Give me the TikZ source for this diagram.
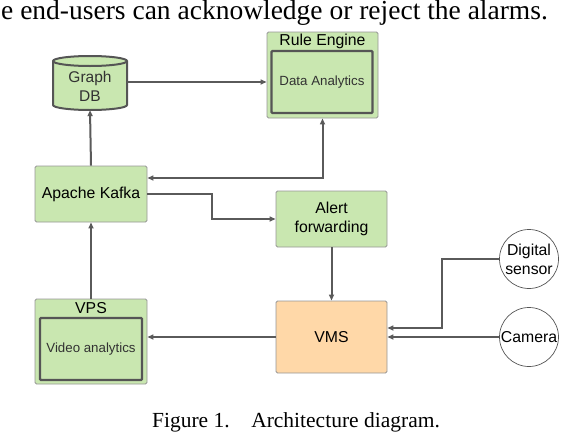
\documentclass[tikz,border=0pt]{standalone}
\usepackage{fontspec}
\setmainfont{Liberation Serif}
\newfontfamily\arial{Liberation Sans}
\usetikzlibrary{arrows.meta,calc}
\definecolor{boxgreen}{RGB}{201,231,176}
\definecolor{boxorange}{RGB}{255,216,168}
\definecolor{linegray}{RGB}{90,90,90}
\definecolor{bordergray}{RGB}{150,150,150}
\definecolor{innergray}{RGB}{85,85,85}
\definecolor{txtgray}{RGB}{50,50,50}
\begin{document}
\begin{tikzpicture}[x=1pt,y=-1pt,
  box/.style={draw=bordergray,line width=0.9pt,rounded corners=1.5pt,inner sep=0pt,align=center,font=\arial\fontsize{15.8}{19}\selectfont},
  greenbox/.style={box,fill=boxgreen},
  orangebox/.style={box,fill=boxorange},
  innerbox/.style={draw=innergray,line width=2.2pt,rounded corners=1pt,inner sep=0pt,align=center,font=\arial\fontsize{13.3}{16}\selectfont,text=txtgray},
  device/.style={circle,draw=innergray,line width=0.7pt,fill=white,minimum size=59pt,inner sep=0pt,align=center,font=\arial\fontsize{15.8}{19}\selectfont},
  boxtitle/.style={inner sep=0pt,font=\arial\fontsize{15.8}{19}\selectfont},
  dbstyle/.style={draw=innergray,line width=2pt,fill=boxgreen},
  arr/.style={draw=linegray,line width=2pt,-{Triangle[length=6pt,width=5pt]}},
  arrboth/.style={draw=linegray,line width=2pt,{Triangle[length=6pt,width=5pt]}-{Triangle[length=6pt,width=5pt]}}]
\useasboundingbox (0,0) rectangle (562,434);

% top text and caption
\node[anchor=base west,inner sep=0pt,font=\fontsize{27.5}{30}\selectfont] (toptext) at (1,19) {e end-users can acknowledge or reject the alarms.};
\node[anchor=base,inner sep=0pt,font=\fontsize{21.5}{24}\selectfont] (caption) at (296,427) {Figure 1.\hspace{1em}Architecture diagram.};

% Graph DB cylinder
\filldraw[dbstyle] (53,61) -- (53,105) arc[start angle=180,end angle=360,x radius=37pt,y radius=5pt] -- (127,61) arc[start angle=0,end angle=180,x radius=37pt,y radius=5pt] -- cycle;
\draw[dbstyle,fill=none] (53,61) arc[start angle=180,end angle=360,x radius=37pt,y radius=5pt];
\node[inner sep=0pt,minimum width=74pt,minimum height=54pt] (gdb) at (90,83) {};
\node[inner sep=0pt,align=center,text=txtgray,font=\arial\fontsize{15.5}{19}\selectfont] (gdbtext) at (90,86.5) {Graph\\DB};

% Rule Engine
\node[greenbox,minimum width=111pt,minimum height=86pt] (rule) at (322.5,75) {};
\node[boxtitle] (ruletitle) at (322.5,41) {Rule Engine};
\node[innerbox,minimum width=101pt,minimum height=62pt] (ruleinner) at (322,82) {Data Analytics};

% Kafka, Alert, VMS
\node[greenbox,minimum width=112pt,minimum height=56pt] (kafka) at (91,194) {Apache Kafka};
\node[greenbox,minimum width=111pt,minimum height=56pt] (alert) at (331.5,219) {Alert\\forwarding};
\node[orangebox,minimum width=111pt,minimum height=72pt] (vms) at (331.5,337) {VMS};

% VPS
\node[greenbox,minimum width=112pt,minimum height=85pt] (vps) at (91,341.5) {};
\node[boxtitle] (vpstitle) at (91,308) {VPS};
\node[innerbox,minimum width=102pt,minimum height=62pt] (vpsinner) at (91,349) {Video analytics};

% devices
\node[device] (sensor) at (529,259) {Digital\\sensor};
\node[device] (camera) at (529,337) {Camera};

% connectors
\draw[arr] ([yshift=1pt]gdb.east) -- ([yshift=1pt]gdb.east -| rule.west);
\draw[arr] (kafka.north) -- (gdb.south);
\draw[arrboth] ([yshift=16pt]kafka.east) -| (rule.south);
\draw[arr] (kafka.east) -- ++(65,0) |- (alert.west);
\draw[arr] (alert.south) -- (vms.north);
\draw[arr] (sensor.west) -- ++(-57.5,0) |- ([yshift=9pt]vms.east);
\draw[arr] (camera.west) -- (vms.east);
\draw[arr] (vms.west) -- (vms.west -| vps.east);
\draw[arr] (vps.north) -- (kafka.south);
\end{tikzpicture}
\end{document}
